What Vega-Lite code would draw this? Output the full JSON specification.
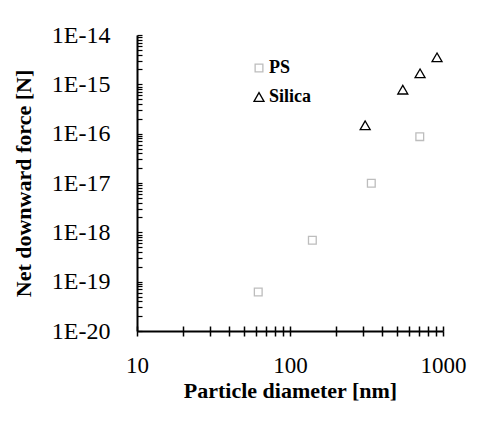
{
  "$schema": "https://vega.github.io/schema/vega-lite/v6.json",
  "width": 306,
  "height": 296,
  "autosize": "none",
  "padding": {"left": 137, "top": 35, "right": 51, "bottom": 102},
  "background": "white",
  "config": {
    "view": {"stroke": null},
    "font": "Liberation Serif",
    "axis": {"domainColor": "black", "tickColor": "black", "labelColor": "black", "titleColor": "black", "grid": false, "labelFont": "Liberation Serif", "titleFont": "Liberation Serif"},
    "legend": {"labelFont": "Liberation Serif"}
  },
  "data": {
    "values": [
      {"series": "PS", "diameter": 62, "force": 6.2e-20},
      {"series": "PS", "diameter": 140, "force": 6.9e-19},
      {"series": "PS", "diameter": 340, "force": 9.9e-18},
      {"series": "PS", "diameter": 705, "force": 8.7e-17},
      {"series": "Silica", "diameter": 310, "force": 1.48e-16},
      {"series": "Silica", "diameter": 546, "force": 7.8e-16},
      {"series": "Silica", "diameter": 708, "force": 1.67e-15},
      {"series": "Silica", "diameter": 914, "force": 3.53e-15}
    ]
  },
  "resolve": {"axis": {"x": "independent", "y": "independent"}},
  "layer": [
    {
      "mark": {"type": "point", "filled": false, "strokeWidth": 1.3, "opacity": 1},
      "encoding": {
        "x": {
          "field": "diameter", "type": "quantitative",
          "scale": {"type": "log", "domain": [10, 1000], "nice": false},
          "axis": {
            "orient": "bottom",
            "title": "Particle diameter [nm]",
            "titleFontSize": 22, "titleFontWeight": "bold", "titlePadding": 3,
            "values": [10, 20, 30, 40, 50, 60, 70, 80, 90, 100, 200, 300, 400, 500, 600, 700, 800, 900, 1000],
            "labelExpr": "datum.value == 10 || datum.value == 100 || datum.value == 1000 ? datum.value : ''",
            "labelOverlap": false, "labelFlush": false, "labelFontSize": 23, "labelPadding": 18,
            "tickSize": 5, "tickWidth": 1.5, "domainWidth": 2
          }
        },
        "y": {
          "field": "force", "type": "quantitative",
          "scale": {"type": "log", "domain": [1e-20, 1e-14], "nice": false},
          "axis": {
            "orient": "left",
            "title": "Net downward force [N]",
            "titleFontSize": 22, "titleFontWeight": "bold", "titlePadding": 16,
            "values": [1e-20, 1e-19, 1e-18, 1e-17, 1e-16, 1e-15, 1e-14],
            "labelExpr": "'1E' + round(log(datum.value) / LN10)",
            "labelOverlap": false, "labelFlush": false, "labelFontSize": 24, "labelPadding": 27,
            "ticks": false, "domainWidth": 2
          }
        },
        "color": {
          "field": "series", "type": "nominal",
          "scale": {"domain": ["PS", "Silica"], "range": ["#bdbdbd", "#000000"]},
          "legend": {
            "title": null, "orient": "none", "legendX": 113, "legendY": 24,
            "labelFontSize": 18, "labelFontWeight": "bold",
            "labelColor": "black", "rowPadding": 11, "padding": 0, "labelOffset": 1,
            "symbolSize": 70, "symbolStrokeWidth": 1.3, "symbolFillColor": "transparent"
          }
        },
        "shape": {
          "field": "series", "type": "nominal",
          "scale": {"domain": ["PS", "Silica"], "range": ["square", "triangle-up"]}
        },
        "size": {
          "field": "series", "type": "nominal",
          "scale": {"domain": ["PS", "Silica"], "range": [60, 100]},
          "legend": null
        }
      }
    },
    {
      "mark": {"type": "point", "opacity": 0},
      "encoding": {
        "x": {
          "field": "diameter", "type": "quantitative",
          "axis": {
            "orient": "bottom", "title": null, "labels": false, "domain": false,
            "values": [10, 20, 30, 40, 50, 60, 70, 80, 90, 100, 200, 300, 400, 500, 600, 700, 800, 900, 1000],
            "tickSize": -5, "tickWidth": 1.5
          }
        },
        "y": {
          "field": "force", "type": "quantitative",
          "axis": {
            "orient": "left", "title": null, "labels": false, "domain": false,
            "values": [1e-20, 2e-20, 3e-20, 4e-20, 5e-20, 6e-20, 7e-20, 8e-20, 9e-20,
                       1e-19, 2e-19, 3e-19, 4e-19, 5e-19, 6e-19, 7e-19, 8e-19, 9e-19,
                       1e-18, 2e-18, 3e-18, 4e-18, 5e-18, 6e-18, 7e-18, 8e-18, 9e-18,
                       1e-17, 2e-17, 3e-17, 4e-17, 5e-17, 6e-17, 7e-17, 8e-17, 9e-17,
                       1e-16, 2e-16, 3e-16, 4e-16, 5e-16, 6e-16, 7e-16, 8e-16, 9e-16,
                       1e-15, 2e-15, 3e-15, 4e-15, 5e-15, 6e-15, 7e-15, 8e-15, 9e-15, 1e-14],
            "tickSize": -5, "tickWidth": 1.2
          }
        }
      }
    }
  ]
}
